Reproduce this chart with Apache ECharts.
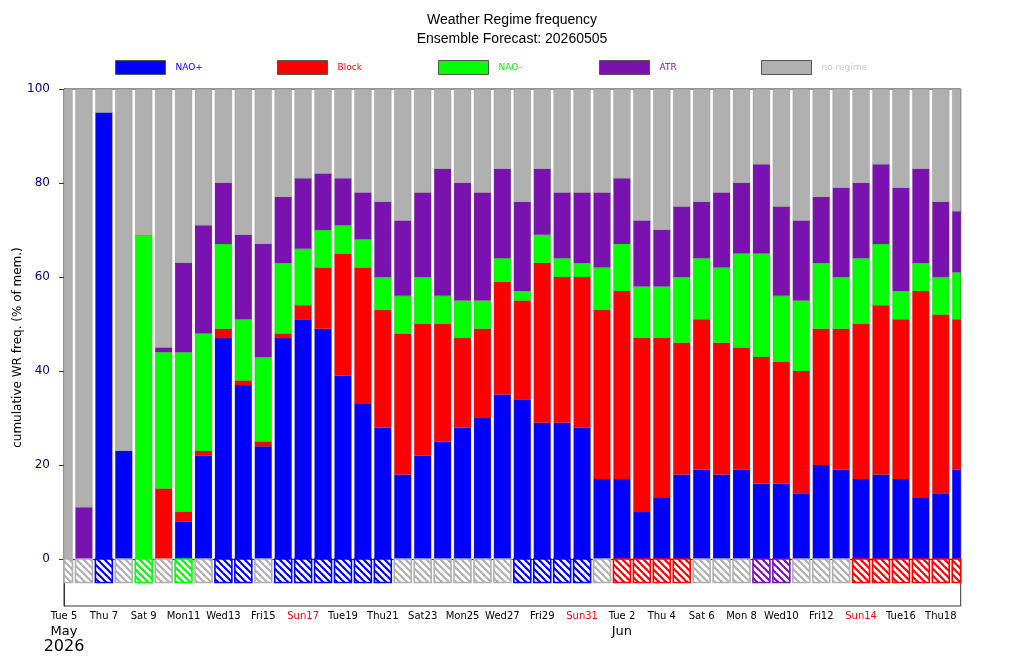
<!DOCTYPE html>
<html>
<head>
<meta charset="utf-8">
<script src="https://cdn.jsdelivr.net/npm/echarts@6/dist/echarts.min.js"></script>
<style>
html,body{margin:0;padding:0;background:#fff;}
#c{width:1024px;height:657px;}
</style>
</head>
<body>
<div id="c"></div>
<script>
// ---- data ----
const DAY_INDEX = [0,1,2,3,4,5,6,7,8,9,10,11,12,13,14,15,16,17,18,19,20,21,22,23,24,25,26,27,28,29,30,31,32,33,34,35,36,37,38,39,40,41,42,43,44,45];
const NAO_PLUS = [0,0,95,23,0,0,8,22,47,37,24,47,51,49,39,33,28,18,22,25,28,30,35,34,29,29,28,17,17,10,13,18,19,18,19,16,16,14,20,19,17,18,17,13,14,19];
const BLOCK    = [0,0,0,0,0,15,2,1,2,1,1,1,3,13,26,29,25,30,28,25,19,19,24,21,34,31,32,36,40,37,34,28,32,28,26,27,26,26,29,30,33,36,34,44,38,32];
const NAO_MIN  = [0,0,0,0,69,29,34,25,18,13,18,15,12,8,6,6,7,8,10,6,8,6,5,2,6,4,3,9,10,11,11,14,13,16,20,22,14,15,14,11,14,13,6,6,8,10];
const ATR      = [0,11,0,0,0,1,19,23,13,18,24,14,15,12,10,10,16,16,18,27,25,23,19,19,14,14,15,16,14,14,12,15,12,16,15,19,19,17,14,19,16,17,22,20,16,13];
const NO_REG   = [100,89,5,77,31,55,37,29,20,31,33,23,19,18,19,22,24,28,22,17,20,22,17,24,17,22,22,22,19,28,30,25,24,22,20,16,25,28,23,21,20,16,21,17,24,26];
const REGIME   = ['no regime','no regime','NAO+','no regime','NAO-','no regime','NAO-','no regime','NAO+','NAO+','no regime','NAO+','NAO+','NAO+','NAO+','NAO+','NAO+',
                  'no regime','no regime','no regime','no regime','no regime','no regime','NAO+','NAO+','NAO+','NAO+','no regime','Block','Block','Block','Block',
                  'no regime','no regime','no regime','ATR','ATR','no regime','no regime','no regime','Block','Block','Block','Block','Block','Block'];
const XTICK_DAYS   = [0,2,4,6,8,10,12,14,16,18,20,22,24,26,28,30,32,34,36,38,40,42,44];
const XTICK_LABELS = ['Tue 5','Thu 7','Sat 9','Mon11','Wed13','Fri15','Sun17','Tue19','Thu21','Sat23','Mon25','Wed27','Fri29','Sun31','Tue 2','Thu 4','Sat 6','Mon 8','Wed10','Fri12','Sun14','Tue16','Thu18'];
const MONTH_LABELS = {0:'May', 28:'Jun'};
const YEAR_LABEL = '2026';
const YTICKS = [0,20,40,60,80,100];
const SERIES_NAMES = ['NAO+','Block','NAO-','ATR','no regime'];

// ---- styles ----
const COLORS = {'NAO+':'#0000ff','Block':'#ff0000','NAO-':'#00ff00','ATR':'#7a12b0','no regime':'#b0b0b0'};
const LEGEND_TEXT = {'NAO+':'#0000ff','Block':'#ff0000','NAO-':'#00ff00','ATR':'#7a12b0','no regime':'#c8c8c8'};
const BOX_DEPTH = -5;
const BAR_FRAC = 0.85;

function hatch(color){
  const n = 7;
  const c = document.createElement('canvas');
  c.width = n; c.height = n;
  const g = c.getContext('2d');
  g.fillStyle = '#fff'; g.fillRect(0,0,n,n);
  g.strokeStyle = color; g.lineWidth = 2.2;
  for (let k=-1;k<=1;k++){ g.beginPath(); g.moveTo(-1, k*n-1); g.lineTo(n+1, k*n+n+1); g.stroke(); }
  return c;
}
const PATTERNS = {};
SERIES_NAMES.forEach(n => PATTERNS[n] = hatch(COLORS[n]));

const layers = [NAO_PLUS, BLOCK, NAO_MIN, ATR, NO_REG];

function barRect(params, api, lo, hi){
  const x = api.value(0);
  const p0 = api.coord([x, lo]);
  const p1 = api.coord([x, hi]);
  const w = api.size([1, 0])[0] * BAR_FRAC;
  const cs = params.coordSys;
  return echarts.graphic.clipRectByRect(
    {x: p0[0] - w/2, y: Math.min(p0[1], p1[1]), width: w, height: Math.abs(p0[1] - p1[1])},
    {x: cs.x, y: cs.y, width: cs.width, height: cs.height});
}

const series = SERIES_NAMES.map((name, si) => ({
  name, type:'custom', coordinateSystem:'cartesian2d',
  itemStyle:{color:COLORS[name]},
  emphasis:{disabled:true},
  encode:{x:0, y:[1,2]},
  data: DAY_INDEX.map((d,i)=>{
    let lo = 0; for (let k=0;k<si;k++) lo += layers[k][i];
    return [d, lo, lo + layers[si][i]];
  }),
  renderItem:function(params, api){
    const lo = api.value(1), hi = api.value(2);
    if (hi <= lo) return null;
    const r = barRect(params, api, lo, hi);
    if (!r) return null;
    return {type:'rect', shape:r, style:{fill:COLORS[name], stroke:'rgba(90,90,90,0.35)', lineWidth:0.5}};
  }
}));
series.push({
  name:'regime', type:'custom', coordinateSystem:'cartesian2d',
  emphasis:{disabled:true},
  encode:{x:0, y:[1,2]},
  data: DAY_INDEX.map((d,i)=>[d, BOX_DEPTH, 0, SERIES_NAMES.indexOf(REGIME[i])]),
  renderItem:function(params, api){
    const r = barRect(params, api, api.value(1), api.value(2));
    if (!r) return null;
    const name = SERIES_NAMES[api.value(3)];
    return {type:'rect', shape:r, style:{fill:{image:PATTERNS[name], repeat:'repeat'}, stroke:COLORS[name], lineWidth:1.6}};
  }
});

const legendLeft = [115, 277, 438, 599, 761];
const legends = SERIES_NAMES.map((n,i)=>({
  data:[n], left:legendLeft[i], top:60, padding:0, icon:'rect', itemWidth:50, itemHeight:14,
  selectedMode:false,
  itemStyle:{color:COLORS[n], borderColor:'#555', borderWidth:1},
  textStyle:{color:LEGEND_TEXT[n], fontSize:9, fontFamily:'DejaVu Sans', padding:[0,0,0,5]}
}));

const chart = echarts.init(document.getElementById('c'), null, {renderer:'canvas'});
chart.setOption({
  animation:false,
  backgroundColor:'#fff',
  title:{
    text:'Weather Regime frequency\nEnsemble Forecast: 20260505',
    left:'center', top:6,
    textStyle:{fontSize:14, fontWeight:'normal', color:'#000', fontFamily:'Liberation Sans', lineHeight:19}
  },
  legend:legends,
  grid:{left:64, right:63.3, top:89, bottom:51, containLabel:false, outerBoundsMode:'none',
        show:true, borderColor:'#333', borderWidth:1, backgroundColor:'transparent'},
  xAxis:{
    type:'value', min:0, max:45,
    axisLine:{show:true, lineStyle:{color:'#333', width:1}},
    splitLine:{show:false},
    axisTick:{show:true, customValues:XTICK_DAYS, length:4, lineStyle:{color:'#333'}},
    axisLabel:{
      customValues:XTICK_DAYS, margin:3,
      formatter:function(v){
        const d = Math.round(v);
        const idx = XTICK_DAYS.indexOf(d);
        if (idx<0) return '';
        const lab = XTICK_LABELS[idx];
        let s = lab.indexOf('Sun')===0 ? '{r|'+lab+'}' : '{d|'+lab+'}';
        if (MONTH_LABELS[d]) s += '\n{m|'+MONTH_LABELS[d]+'}';
        if (d===0) s += '\n{y|'+YEAR_LABEL+'}';
        return s;
      },
      rich:{
        d:{fontSize:10, color:'#000', fontFamily:'DejaVu Sans', lineHeight:15},
        r:{fontSize:10, color:'#ff0000', fontFamily:'DejaVu Sans', lineHeight:15},
        m:{fontSize:13, color:'#000', fontFamily:'DejaVu Sans', lineHeight:15},
        y:{fontSize:16, color:'#000', fontFamily:'DejaVu Sans', lineHeight:16}
      }
    }
  },
  yAxis:{
    type:'value', min:-10, max:100,
    name:'cumulative WR freq. (% of mem.)', nameLocation:'middle', nameGap:40, nameMoveOverlap:false,
    nameTextStyle:{fontSize:12, color:'#000', fontFamily:'DejaVu Sans'},
    axisLine:{show:true, lineStyle:{color:'#333', width:1}},
    splitLine:{show:false},
    axisTick:{show:true, customValues:YTICKS, length:5, lineStyle:{color:'#333'}},
    axisLabel:{customValues:YTICKS, margin:14, fontSize:12, color:'#00007f', fontFamily:'DejaVu Sans'}
  },
  series
});
</script>
</body>
</html>
